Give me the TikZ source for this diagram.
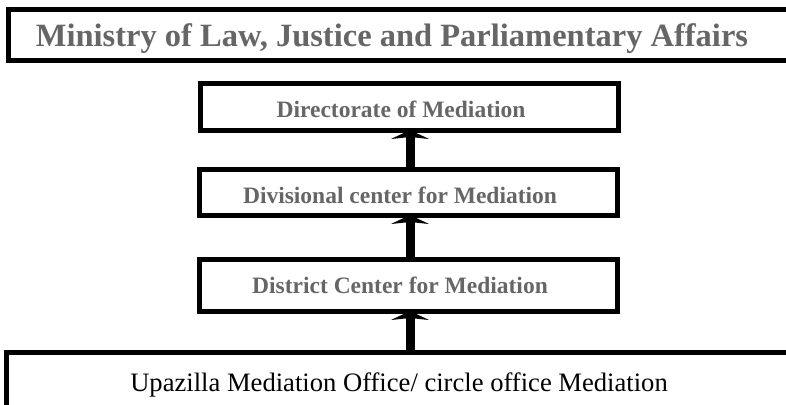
\documentclass[tikz,border=0pt]{standalone}
\usepackage{fontspec}
\setmainfont{Liberation Serif}
\usetikzlibrary{arrows.meta}

\begin{document}
\begin{tikzpicture}
    [x=1pt, y=-1pt,
     every node/.style={inner sep=0pt, outer sep=0pt},
     frame/.style={draw, line width=5pt, fill=white},
     office/.style={frame, minimum width=418pt},
     officetext/.style={text=black!60, xshift=-8pt,
                        font=\bfseries\fontsize{23.5}{26}\selectfont},
     arr/.style={draw=black, line width=9pt, -{Stealth[length=9pt, width=38pt, inset=2pt]}},
    ]
    \useasboundingbox (0,0) rectangle (786,404);

    % top and bottom frames run past the page edge
    \node (ministry) [frame, anchor=west, minimum width=800pt, minimum height=51pt] at (8,35) {};
    \node (ministry text) [text=black!60, font=\bfseries\fontsize{32.5}{36}\selectfont] at (392,39) {Ministry of Law, Justice and Parliamentary Affairs};

    \node (directorate) [office, minimum height=47pt,
        label={[officetext, yshift=-3pt]center:Directorate of Mediation}] at (409,106.5) {};
    \node (divisional) [office, minimum height=46pt,
        label={[officetext, yshift=-3pt]center:Divisional center for Mediation}] at (408,192) {};
    \node (district) [office, minimum height=52pt,
        label={[officetext]center:District Center for Mediation}] at (408,285) {};

    \node (upazilla) [frame, anchor=north west, minimum width=800pt, minimum height=80pt] at (6,352) {};
    \node (upazilla text) [font=\fontsize{26.6}{30}\selectfont] at (399,385) {Upazilla Mediation Office/ circle office Mediation};

    \draw [arr] (divisional.north -| 410,0) -- (directorate.south -| 410,0);
    \draw [arr] (district.north -| 410,0) -- (divisional.south -| 410,0);
    \draw [arr] (upazilla.north -| 410,0) -- (district.south -| 410,0);

\end{tikzpicture}
\end{document}
